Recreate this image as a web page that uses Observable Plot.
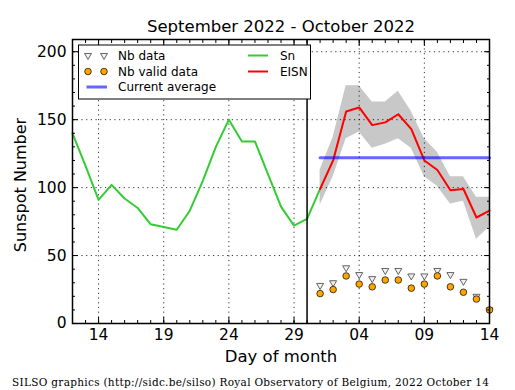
<!DOCTYPE html>
<html><head><meta charset="utf-8">
<script src="https://cdn.jsdelivr.net/npm/d3@7"></script>
<script src="https://cdn.jsdelivr.net/npm/@observablehq/plot@0.6"></script>
<style>html,body{margin:0;padding:0;background:#fff} svg{display:block}</style>
</head><body><div id="chart"></div>
<script>
// ---- data ----
const titleText = "September 2022 - October 2022";
const yLabel = "Sunspot Number";
const xLabel = "Day of month";
const captionText = "SILSO graphics (http://sidc.be/silso) Royal Observatory of Belgium, 2022 October 14";

const snDates = ["2022-09-12","2022-09-13","2022-09-14","2022-09-15","2022-09-16","2022-09-17","2022-09-18","2022-09-19","2022-09-20","2022-09-21","2022-09-22","2022-09-23","2022-09-24","2022-09-25","2022-09-26","2022-09-27","2022-09-28","2022-09-29","2022-09-30","2022-10-01"];
const snValues = [140, 116, 91, 102, 92, 85, 73, 71, 69, 83, 105, 130, 150, 134, 134, 110, 86, 72, 77, 99];

const eisnDates = ["2022-10-01","2022-10-02","2022-10-03","2022-10-04","2022-10-05","2022-10-06","2022-10-07","2022-10-08","2022-10-09","2022-10-10","2022-10-11","2022-10-12","2022-10-13","2022-10-14"];
const eisnValues = [99, 120, 156, 159, 146, 148, 154, 143, 120, 113, 98, 99, 78, 83];
const eisnUpper  = [113, 137, 175, 175, 163, 163, 171, 156, 136, 126, 108, 108, 93, 93];
const eisnLower  = [87, 108, 136, 141, 129, 132, 136, 129, 108, 101, 88, 90, 62, 71];
const nbData     = [28, 30, 41, 36, 33, 39, 39, 35, 35, 39, 36, 31, 20, 10];
const nbValid    = [22, 25, 35, 29, 27, 32, 32, 26, 29, 35, 27, 23, 18, 10];
const currentAverage = 122;
const monthBoundary = "2022-09-30";

const xDomain = ["2022-09-12", "2022-10-14"];
const xTickDates = ["2022-09-14","2022-09-19","2022-09-24","2022-09-29","2022-10-04","2022-10-09","2022-10-14"];
const yDomain = [0, 209];
const yTicks = [0, 50, 100, 150, 200];
const yGridTicks = [50, 100, 150, 200];
const yMinorStep = 10;

const legendLeft = [
  {label: "Nb data", kind: "tri"},
  {label: "Nb valid data", kind: "dot"},
  {label: "Current average", kind: "avg"}
];
const legendRight = [
  {label: "Sn", kind: "sn"},
  {label: "EISN", kind: "eisn"}
];

// ---- build ----
const P = s => new Date(s + "T00:00:00Z");
const sn = snDates.map((d, i) => ({date: P(d), value: snValues[i]}));
const eisn = eisnDates.map((d, i) => ({date: P(d), value: eisnValues[i], upper: eisnUpper[i], lower: eisnLower[i], nb: nbData[i], valid: nbValid[i]}));
const xTicks = xTickDates.map(P);
const xMinor = d3.utcDay.range(P(xDomain[0]), d3.utcDay.offset(P(xDomain[1]), 1));
const yMinor = d3.range(yDomain[0], yDomain[1], yMinorStep);

const COL = {sn: "#33cc33", eisn: "#ff0000", avg: "#0000ff", band: "#c8c8c8", dot: "#ffa500"};
const FONT = "DejaVu Sans, sans-serif";

const plot = Plot.plot({
  width: 515, height: 390,
  marginLeft: 72, marginRight: 26, marginTop: 39, marginBottom: 67,
  style: {fontFamily: FONT, background: "white", overflow: "visible"},
  x: {type: "utc", domain: xDomain.map(P)},
  y: {domain: yDomain},
  marks: [
    Plot.areaY(eisn, {x: "date", y1: "lower", y2: "upper", fill: COL.band, fillOpacity: 1}),
    Plot.gridX({ticks: xTicks, stroke: "black", strokeOpacity: 1, strokeWidth: 0.8, strokeDasharray: "1.2,3.5"}),
    Plot.gridY({ticks: yGridTicks, stroke: "black", strokeOpacity: 1, strokeWidth: 0.8, strokeDasharray: "1.2,3.5"}),
    Plot.lineY(sn, {x: "date", y: "value", stroke: COL.sn, strokeWidth: 2}),
    Plot.lineY(eisn, {x: "date", y: "value", stroke: COL.eisn, strokeWidth: 2}),
    Plot.lineY(eisn, {x: "date", y: () => currentAverage, stroke: COL.avg, strokeOpacity: 0.6, strokeWidth: 3}),
    Plot.ruleX([P(monthBoundary)], {stroke: "black", strokeWidth: 1.5}),
    Plot.dot(eisn, {x: "date", y: "nb", symbol: "triangle", rotate: 180, r: 2.6, fill: "#f0f0f0", stroke: "#555", strokeWidth: 0.9}),
    Plot.dot(eisn, {x: "date", y: "valid", r: 3.3, fill: COL.dot, stroke: "black", strokeWidth: 0.7}),
    Plot.frame({stroke: "black", strokeWidth: 1.5}),
    Plot.axisX({anchor: "bottom", ticks: xTicks, tickSize: -6, tickPadding: 11, tickFormat: d3.utcFormat("%d"), fontSize: 15.5, fill: "black", label: null}),
    Plot.axisX({anchor: "bottom", ticks: xMinor, tickSize: -3, tickFormat: () => "", label: null}),
    Plot.axisX({anchor: "top", ticks: xTicks, tickSize: -6, tickFormat: () => "", label: null}),
    Plot.axisX({anchor: "top", ticks: xMinor, tickSize: -3, tickFormat: () => "", label: null}),
    Plot.axisY({anchor: "left", ticks: yTicks, tickSize: -6, tickPadding: 12, fontSize: 15.5, fill: "black", label: null}),
    Plot.axisY({anchor: "left", ticks: yMinor, tickSize: -3, tickFormat: () => "", label: null}),
    Plot.axisY({anchor: "right", ticks: yTicks, tickSize: -6, tickFormat: () => "", label: null}),
    Plot.axisY({anchor: "right", ticks: yMinor, tickSize: -3, tickFormat: () => "", label: null})
  ]
});

const svg = d3.select(plot);
// title & labels
svg.append("text").attr("x", 281).attr("y", 32).attr("text-anchor", "middle")
  .attr("font-family", FONT).attr("font-size", 16.5).attr("fill", "black").text(titleText);
svg.append("text").attr("transform", "translate(26,185) rotate(-90)").attr("text-anchor", "middle")
  .attr("font-family", FONT).attr("font-size", 16).attr("fill", "black").text(yLabel);
svg.append("text").attr("x", 281).attr("y", 362).attr("text-anchor", "middle")
  .attr("font-family", FONT).attr("font-size", 16.5).attr("fill", "black").text(xLabel);
svg.append("text").attr("x", 12).attr("y", 386).attr("text-anchor", "start").attr("font-family", "DejaVu Serif, serif")
  .attr("font-size", 10.5).attr("textLength", 477).attr("lengthAdjust", "spacing").attr("fill", "black").text(captionText);

// legend
const lg = svg.append("g").attr("font-family", FONT).attr("font-size", 12).attr("fill", "black").attr("text-anchor", "start");
lg.append("rect").attr("x", 78.5).attr("y", 45).attr("width", 232).attr("height", 54)
  .attr("fill", "white").attr("stroke", "black").attr("stroke-width", 1);
const rowY = [55.5, 71.5, 87];
const triPath = d3.symbol(d3.symbolTriangle, 21)();
legendLeft.forEach((it, i) => {
  const y = rowY[i];
  if (it.kind === "tri") {
    [88, 104].forEach(x => lg.append("path").attr("d", triPath).attr("transform", `translate(${x},${y}) rotate(180)`)
      .attr("fill", "#f0f0f0").attr("stroke", "#555").attr("stroke-width", 0.9));
  } else if (it.kind === "dot") {
    [88, 104].forEach(x => lg.append("circle").attr("cx", x).attr("cy", y).attr("r", 3.3)
      .attr("fill", COL.dot).attr("stroke", "black").attr("stroke-width", 0.7));
  } else {
    lg.append("line").attr("x1", 86.5).attr("x2", 107).attr("y1", y).attr("y2", y)
      .attr("stroke", COL.avg).attr("stroke-opacity", 0.6).attr("stroke-width", 3);
  }
  lg.append("text").attr("x", 118).attr("y", y).attr("dy", "0.36em").attr("text-anchor", "start").text(it.label);
});
legendRight.forEach((it, i) => {
  const y = rowY[i];
  lg.append("line").attr("x1", 248).attr("x2", 268).attr("y1", y).attr("y2", y)
    .attr("stroke", COL[it.kind]).attr("stroke-width", 2);
  lg.append("text").attr("x", 280).attr("y", y).attr("dy", "0.36em").attr("text-anchor", "start").text(it.label);
});

document.getElementById("chart").appendChild(plot);
</script>
</body></html>
